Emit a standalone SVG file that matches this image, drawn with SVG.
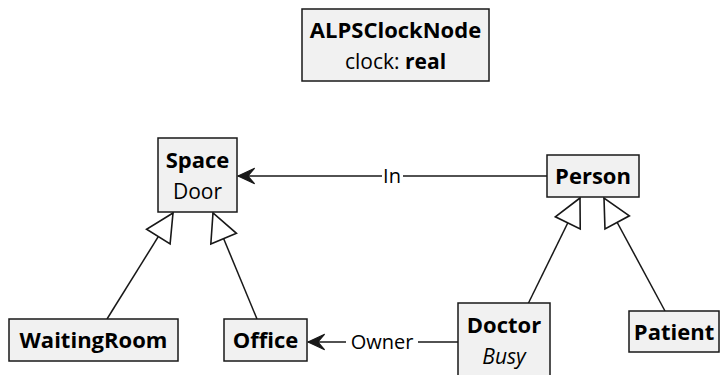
<svg xmlns="http://www.w3.org/2000/svg" width="722" height="375" viewBox="0 0 722 375">
  <style>
    .box { fill: #F1F1F1; stroke: #181818; stroke-width: 1.5; }
    .title { font-family: "Open Sans", "Noto Sans", "DejaVu Sans", sans-serif; font-size: 22px; font-weight: bold; fill: #000; text-anchor: middle; }
    .attr { font-family: "Open Sans", "Noto Sans", "DejaVu Sans", sans-serif; font-size: 21px; fill: #000; text-anchor: middle; }
    .lbl { font-family: "Open Sans", "Noto Sans", "DejaVu Sans", sans-serif; font-size: 20px; fill: #000; text-anchor: middle; }
    .edge { stroke: #181818; stroke-width: 1.5; fill: none; }
  </style>
  <defs>
    <marker id="assoc" markerUnits="userSpaceOnUse" markerWidth="20" markerHeight="20" viewBox="-16 -8 18 16" refX="0" refY="0" orient="auto">
      <path d="M0,0 L-15,-7 L-9,0 L-15,7 Z" fill="#181818" stroke="#181818" stroke-width="1"/>
    </marker>
    <marker id="extends" markerUnits="userSpaceOnUse" markerWidth="32" markerHeight="32" viewBox="-28 -15 30 30" refX="0" refY="0" orient="auto">
      <path d="M0,0 L-26,-13 L-26,13 Z" fill="#FFFFFF" stroke="#181818" stroke-width="1.5"/>
    </marker>
  </defs>

  <g id="connectors">
    <!-- Person -> Space : In -->
    <line class="edge" x1="547" y1="176" x2="403" y2="176"/>
    <line class="edge" x1="382" y1="176" x2="238" y2="176" marker-end="url(#assoc)"/>
    <text class="lbl" x="392" y="183">In</text>
    <!-- Doctor -> Office : Owner -->
    <line class="edge" x1="458" y1="342" x2="418" y2="342"/>
    <line class="edge" x1="346" y1="342" x2="308" y2="342" marker-end="url(#assoc)"/>
    <text class="lbl" x="382" y="349">Owner</text>
    <!-- generalisations -->
    <line class="edge" x1="107" y1="319" x2="173" y2="213" marker-end="url(#extends)"/>
    <line class="edge" x1="257" y1="319" x2="213" y2="213" marker-end="url(#extends)"/>
    <line class="edge" x1="528" y1="304" x2="580" y2="198" marker-end="url(#extends)"/>
    <line class="edge" x1="665" y1="311" x2="604" y2="198" marker-end="url(#extends)"/>
  </g>

  <g id="ALPSClockNode">
    <rect class="box" x="302" y="9" width="187" height="72"/>
    <text class="title" x="395.5" y="38">ALPSClockNode</text>
    <text class="attr" x="395.5" y="69">clock: <tspan font-weight="bold">real</tspan></text>
  </g>

  <g id="Space">
    <rect class="box" x="158" y="138" width="79" height="74"/>
    <text class="title" x="197.5" y="168">Space</text>
    <text class="attr" x="197.5" y="199">Door</text>
  </g>

  <g id="Person">
    <rect class="box" x="547" y="155" width="92" height="42"/>
    <text class="title" x="593" y="184">Person</text>
  </g>

  <g id="WaitingRoom">
    <rect class="box" x="9" y="319" width="169" height="42"/>
    <text class="title" x="93.5" y="348">WaitingRoom</text>
  </g>

  <g id="Office">
    <rect class="box" x="224" y="319" width="83" height="42"/>
    <text class="title" x="265.5" y="348">Office</text>
  </g>

  <g id="Doctor">
    <rect class="box" x="458" y="303" width="92" height="74"/>
    <text class="title" x="504" y="333">Doctor</text>
    <text class="attr" x="504" y="364" font-style="italic">Busy</text>
  </g>

  <g id="Patient">
    <rect class="box" x="629" y="311" width="90" height="41"/>
    <text class="title" x="674" y="340">Patient</text>
  </g>
</svg>
